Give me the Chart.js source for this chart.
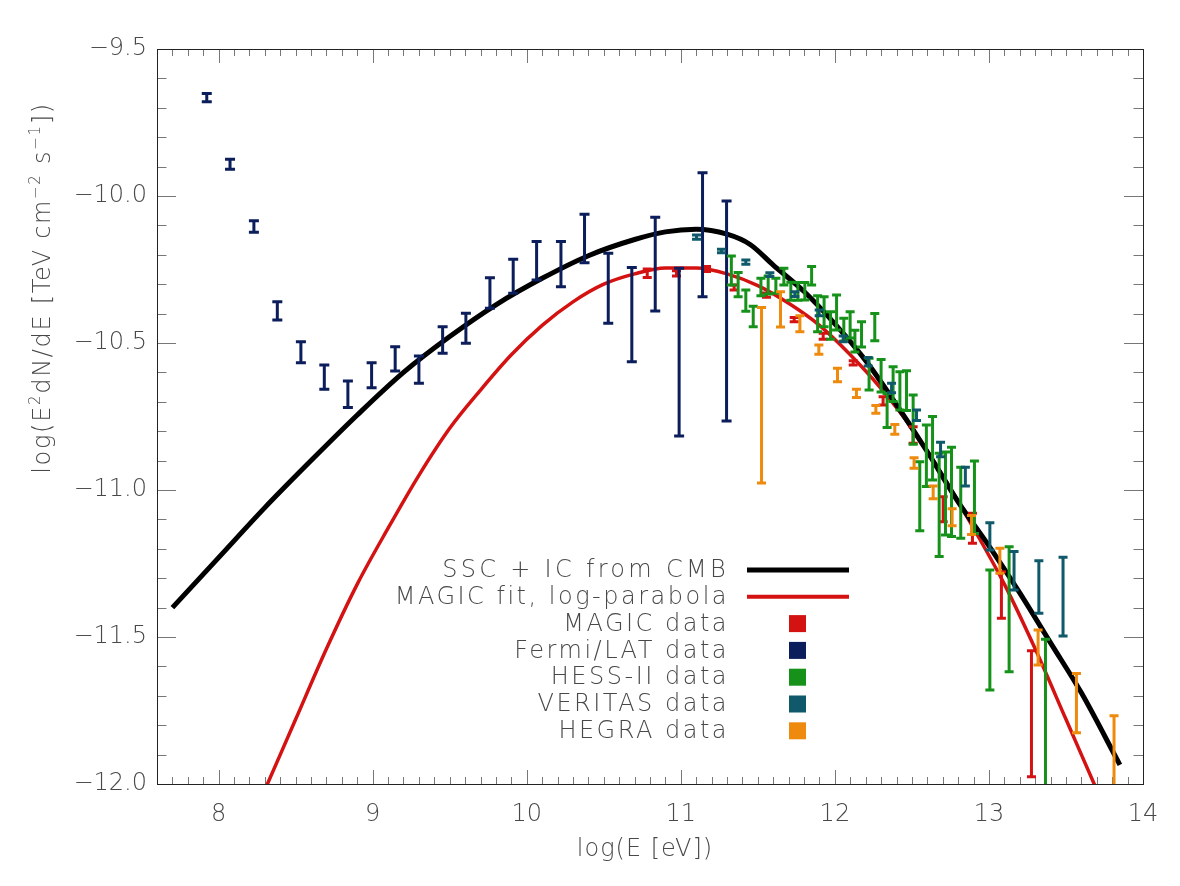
<!DOCTYPE html>
<html><head><meta charset="utf-8">
<script src="https://cdn.jsdelivr.net/npm/chart.js@4.4.0/dist/chart.umd.min.js"></script>
<style>html,body{margin:0;padding:0;background:#fff;}canvas{display:block;}</style>
</head><body>
<canvas id="c" width="1180" height="886"></canvas>
<script>
// ---- axis ticks ----
const xTickValues = [8, 9, 10, 11, 12, 13, 14];
const yTickValues = [-12.0, -11.5, -11.0, -10.5, -10.0, -9.5];

// ---- model curves ----
const sscX = [7.70, 8.00, 8.30, 8.60, 8.90, 9.20, 9.50, 9.80, 10.10, 10.40, 10.70, 10.90, 11.10, 11.30, 11.45, 11.60, 11.80, 12.00, 12.20, 12.40, 12.60, 12.80, 13.00, 13.20, 13.40, 13.60, 13.85];
const sscY = [-11.40, -11.23, -11.06, -10.90, -10.745, -10.60, -10.478, -10.37, -10.28, -10.203, -10.148, -10.122, -10.113, -10.13, -10.165, -10.235, -10.325, -10.435, -10.56, -10.71, -10.87, -11.04, -11.19, -11.35, -11.52, -11.69, -11.935];

const fitX = [8.30, 8.50, 8.70, 8.90, 9.10, 9.30, 9.50, 9.70, 9.90, 10.10, 10.30, 10.50, 10.70, 10.90, 11.10, 11.30, 11.50, 11.70, 11.90, 12.10, 12.30, 12.50, 12.70, 12.90, 13.10, 13.30, 13.50, 13.70];
const fitY = [-12.02, -11.78, -11.54, -11.32, -11.13, -10.95, -10.79, -10.66, -10.54, -10.44, -10.36, -10.30, -10.265, -10.245, -10.245, -10.265, -10.305, -10.365, -10.44, -10.54, -10.655, -10.79, -10.95, -11.13, -11.32, -11.54, -11.78, -12.02];

// ---- data: x, upper end, lower end of each error bar ----
const magicX  = [10.782, 10.972, 11.167, 11.346, 11.556, 11.736, 11.924, 12.119, 12.313, 12.508, 12.703, 12.893, 13.081, 13.276];
const magicHi = [-10.248, -10.254, -10.240, -10.303, -10.330, -10.413, -10.467, -10.560, -10.683, -10.785, -11.023, -11.079, -11.278, -11.547];
const magicLo = [-10.277, -10.272, -10.257, -10.320, -10.344, -10.428, -10.487, -10.575, -10.711, -10.841, -11.108, -11.181, -11.436, -11.975];

const fermiX  = [7.923, 8.074, 8.229, 8.381, 8.534, 8.686, 8.839, 8.993, 9.146, 9.300, 9.454, 9.605, 9.761, 9.912, 10.064, 10.222, 10.375, 10.529, 10.682, 10.834, 10.989, 11.141, 11.297];
const fermiHi = [-9.651, -9.875, -10.084, -10.360, -10.496, -10.575, -10.629, -10.567, -10.513, -10.544, -10.445, -10.399, -10.278, -10.215, -10.155, -10.155, -10.062, -10.195, -10.243, -10.072, -10.246, -9.921, -10.017];
const fermiLo = [-9.679, -9.909, -10.123, -10.422, -10.567, -10.657, -10.719, -10.652, -10.595, -10.637, -10.535, -10.501, -10.382, -10.331, -10.286, -10.309, -10.227, -10.433, -10.564, -10.391, -10.816, -10.343, -10.765];

const hessX  = [11.328, 11.372, 11.422, 11.470, 11.520, 11.567, 11.617, 11.669, 11.714, 11.760, 11.805, 11.849, 11.888, 11.930, 11.972, 12.011, 12.058, 12.099, 12.130, 12.173, 12.222, 12.259, 12.300, 12.339, 12.378, 12.422, 12.465, 12.508, 12.551, 12.594, 12.634, 12.677, 12.718, 12.757, 12.817, 12.906, 13.006, 13.131, 13.367];
const hessHi = [-10.204, -10.260, -10.320, -10.375, -10.280, -10.272, -10.280, -10.246, -10.293, -10.294, -10.294, -10.240, -10.339, -10.343, -10.394, -10.337, -10.416, -10.394, -10.457, -10.428, -10.552, -10.400, -10.556, -10.672, -10.581, -10.598, -10.594, -10.677, -10.904, -10.779, -10.750, -10.875, -10.871, -10.855, -10.923, -10.901, -11.272, -11.193, -11.508];
const hessLo = [-10.303, -10.343, -10.392, -10.445, -10.339, -10.333, -10.331, -10.303, -10.355, -10.355, -10.354, -10.303, -10.462, -10.445, -10.487, -10.456, -10.493, -10.483, -10.531, -10.514, -10.660, -10.492, -10.667, -10.787, -10.699, -10.728, -10.730, -10.844, -11.139, -10.988, -10.966, -11.226, -11.153, -11.158, -11.164, -11.148, -11.680, -11.618, -12.050];

const veritasX  = [11.102, 11.264, 11.422, 11.578, 11.740, 11.898, 12.054, 12.216, 12.368, 12.530, 12.686, 12.847, 13.006, 13.163, 13.324, 13.481];
const veritasHi = [-10.133, -10.181, -10.218, -10.261, -10.326, -10.388, -10.476, -10.549, -10.637, -10.728, -10.838, -10.923, -11.111, -11.209, -11.241, -11.229];
const veritasLo = [-10.147, -10.193, -10.232, -10.274, -10.342, -10.407, -10.496, -10.578, -10.669, -10.764, -10.887, -10.986, -11.204, -11.340, -11.419, -11.497];

const hegraX  = [11.524, 11.647, 11.773, 11.896, 12.017, 12.140, 12.266, 12.389, 12.514, 12.638, 12.761, 12.887, 13.071, 13.319, 13.568, 13.812];
const hegraHi = [-10.379, -10.326, -10.407, -10.507, -10.586, -10.657, -10.713, -10.777, -10.890, -10.986, -11.064, -11.087, -11.198, -11.476, -11.624, -11.768];
const hegraLo = [-10.976, -10.446, -10.462, -10.538, -10.632, -10.685, -10.739, -10.810, -10.926, -11.030, -11.122, -11.151, -11.283, -11.595, -11.826, -12.050];

// ---- legend ----
const legendLabels = ['SSC + IC from CMB', 'MAGIC fit, log-parabola', 'MAGIC data', 'Fermi/LAT data', 'HESS-II data', 'VERITAS data', 'HEGRA data'];
const legendColors = ['#000000', '#d41212', '#d41212', '#0b1d5a', '#16921a', '#0f596a', '#ee8a0e'];
const legendKinds  = ['line', 'line', 'box', 'box', 'box', 'box', 'box'];

const xTitle = 'log(E [eV])';
const yTitleParts = [['log(E', 0], ['2', 1], ['dN/dE [TeV cm', 0], ['\u22122', 1], [' s', 0], ['\u22121', 1], ['])', 0]];

const FONT = '"DejaVu Sans", "Liberation Sans", sans-serif';
const TEXT = '#484848';

function pts(xs, ys) { return xs.map((v, i) => ({x: v, y: ys[i]})); }
function bars(xs, hi, lo) { return xs.map((v, i) => ({x: v, y: hi[i], yLo: lo[i]})); }

const framePlugin = {
  id: 'frame',
  beforeDatasetsDraw(chart) {
    const {ctx, chartArea: a, scales: {x, y}} = chart;
    ctx.save();
    ctx.strokeStyle = '#777';
    ctx.lineWidth = 1;
    ctx.beginPath();
    for (let k = 76; k <= 140; k++) {
      const v = k / 10, major = (k % 10 === 0);
      const px = Math.round(x.getPixelForValue(v)) + 0.5, L = major ? 14 : 7;
      ctx.moveTo(px, a.bottom); ctx.lineTo(px, a.bottom - L);
      ctx.moveTo(px, a.top); ctx.lineTo(px, a.top + L);
    }
    for (let k = -120; k <= -95; k++) {
      const v = k / 10, major = (k % 5 === 0);
      const py = Math.round(y.getPixelForValue(v)) + 0.5, L = major ? 19 : 9.5;
      ctx.moveTo(a.left, py); ctx.lineTo(a.left + L, py);
      ctx.moveTo(a.right, py); ctx.lineTo(a.right - L, py);
    }
    ctx.stroke();
    ctx.strokeStyle = '#222';
    ctx.strokeRect(Math.round(a.left) + 0.5, Math.round(a.top) + 0.5, Math.round(a.right - a.left), Math.round(a.bottom - a.top));
    ctx.restore();
  }
};

const errPlugin = {
  id: 'errbars',
  afterDatasetsDraw(chart) {
    const {ctx, chartArea: a, scales: {x, y}} = chart;
    ctx.save();
    ctx.beginPath(); ctx.rect(a.left, a.top, a.right - a.left, a.bottom - a.top); ctx.clip();
    chart.data.datasets.forEach(ds => {
      if (!ds.errorBars) return;
      ctx.strokeStyle = ds.borderColor; ctx.lineWidth = 3; ctx.lineCap = 'butt';
      ds.data.forEach(p => {
        const px = x.getPixelForValue(p.x), p1 = y.getPixelForValue(p.y), p2 = y.getPixelForValue(p.yLo);
        const w = ds.capHalf;
        ctx.beginPath();
        ctx.moveTo(px, p1); ctx.lineTo(px, p2);
        ctx.moveTo(px - w, p1); ctx.lineTo(px + w, p1);
        ctx.moveTo(px - w, p2); ctx.lineTo(px + w, p2);
        ctx.stroke();
      });
    });
    ctx.restore();
  }
};

const textPlugin = {
  id: 'texts',
  afterDraw(chart) {
    const {ctx} = chart;
    ctx.save();
    ctx.fillStyle = TEXT;
    // x title
    ctx.font = '200 24px ' + FONT;
    ctx.textAlign = 'center'; ctx.textBaseline = 'middle';
    ctx.letterSpacing = '1px';
    ctx.fillText(xTitle, 645, 850);
    // y title (rotated, with superscripts)
    ctx.translate(41, 288);
    ctx.rotate(-Math.PI / 2);
    ctx.textAlign = 'left'; ctx.textBaseline = 'alphabetic';
    ctx.letterSpacing = '1.7px';
    const sizes = [24, 15];
    let total = 0;
    yTitleParts.forEach(([t, s]) => { ctx.font = '200 ' + sizes[s] + 'px ' + FONT; total += ctx.measureText(t).width; });
    let cx = -total / 2;
    yTitleParts.forEach(([t, s]) => {
      ctx.font = '200 ' + sizes[s] + 'px ' + FONT;
      ctx.fillText(t, cx, s ? -1 : 9);
      cx += ctx.measureText(t).width;
    });
    ctx.restore();

    // legend
    ctx.save();
    ctx.font = '200 24px ' + FONT;
    ctx.textAlign = 'right'; ctx.textBaseline = 'middle';
    legendLabels.forEach((lab, i) => {
      const yy = 570 + i * 26.8;
      ctx.letterSpacing = i === 0 ? '3.3px' : '2.5px';
      ctx.fillStyle = TEXT;
      ctx.fillText(lab, 729, yy + 1);
      if (legendKinds[i] === 'line') {
        ctx.strokeStyle = legendColors[i]; ctx.lineWidth = i === 0 ? 5 : 4;
        ctx.beginPath(); ctx.moveTo(747, yy); ctx.lineTo(849, yy); ctx.stroke();
      } else {
        ctx.fillStyle = legendColors[i];
        ctx.fillRect(789, yy - 8.5, 17, 17);
      }
    });
    ctx.restore();
  }
};

const chart = new Chart(document.getElementById('c'), {
  data: {
    datasets: [
      {type: 'line', data: pts(sscX, sscY), borderColor: '#000', borderWidth: 5, pointRadius: 0, cubicInterpolationMode: 'monotone', fill: false},
      {type: 'line', data: pts(fitX, fitY), borderColor: '#d41212', borderWidth: 3.5, pointRadius: 0, cubicInterpolationMode: 'monotone', fill: false},
      {type: 'scatter', data: bars(magicX, magicHi, magicLo), borderColor: legendColors[2], pointRadius: 0, errorBars: true, capHalf: 4.5},
      {type: 'scatter', data: bars(fermiX, fermiHi, fermiLo), borderColor: legendColors[3], pointRadius: 0, errorBars: true, capHalf: 5},
      {type: 'scatter', data: bars(hessX, hessHi, hessLo), borderColor: legendColors[4], pointRadius: 0, errorBars: true, capHalf: 4.5},
      {type: 'scatter', data: bars(veritasX, veritasHi, veritasLo), borderColor: legendColors[5], pointRadius: 0, errorBars: true, capHalf: 4.5},
      {type: 'scatter', data: bars(hegraX, hegraHi, hegraLo), borderColor: legendColors[6], pointRadius: 0, errorBars: true, capHalf: 4.5}
    ]
  },
  options: {
    responsive: false,
    animation: false,
    layout: {padding: {left: 0, top: 49, right: 37, bottom: 0}},
    plugins: {legend: {display: false}, tooltip: {enabled: false}},
    scales: {
      x: {
        type: 'linear', min: 7.6, max: 14.0,
        afterBuildTicks: s => { s.ticks = xTickValues.map(v => ({value: v})); },
        afterFit: s => { s.height = 102; },
        grid: {display: false, drawTicks: false},
        border: {display: false},
        ticks: {font: {family: FONT, size: 24, weight: '200'}, color: TEXT, padding: 16, maxRotation: 0, autoSkip: false, callback: v => String(v)}
      },
      y: {
        type: 'linear', min: -12.0, max: -9.5,
        afterBuildTicks: s => { s.ticks = yTickValues.map(v => ({value: v})); },
        afterFit: s => { s.width = 157; },
        grid: {display: false, drawTicks: false},
        border: {display: false},
        ticks: {font: {family: FONT, size: 24, weight: '200'}, color: TEXT, padding: 10, autoSkip: false, callback: v => '\u2212' + Math.abs(v).toFixed(1)}
      }
    }
  },
  plugins: [framePlugin, errPlugin, textPlugin]
});
</script>
</body></html>
